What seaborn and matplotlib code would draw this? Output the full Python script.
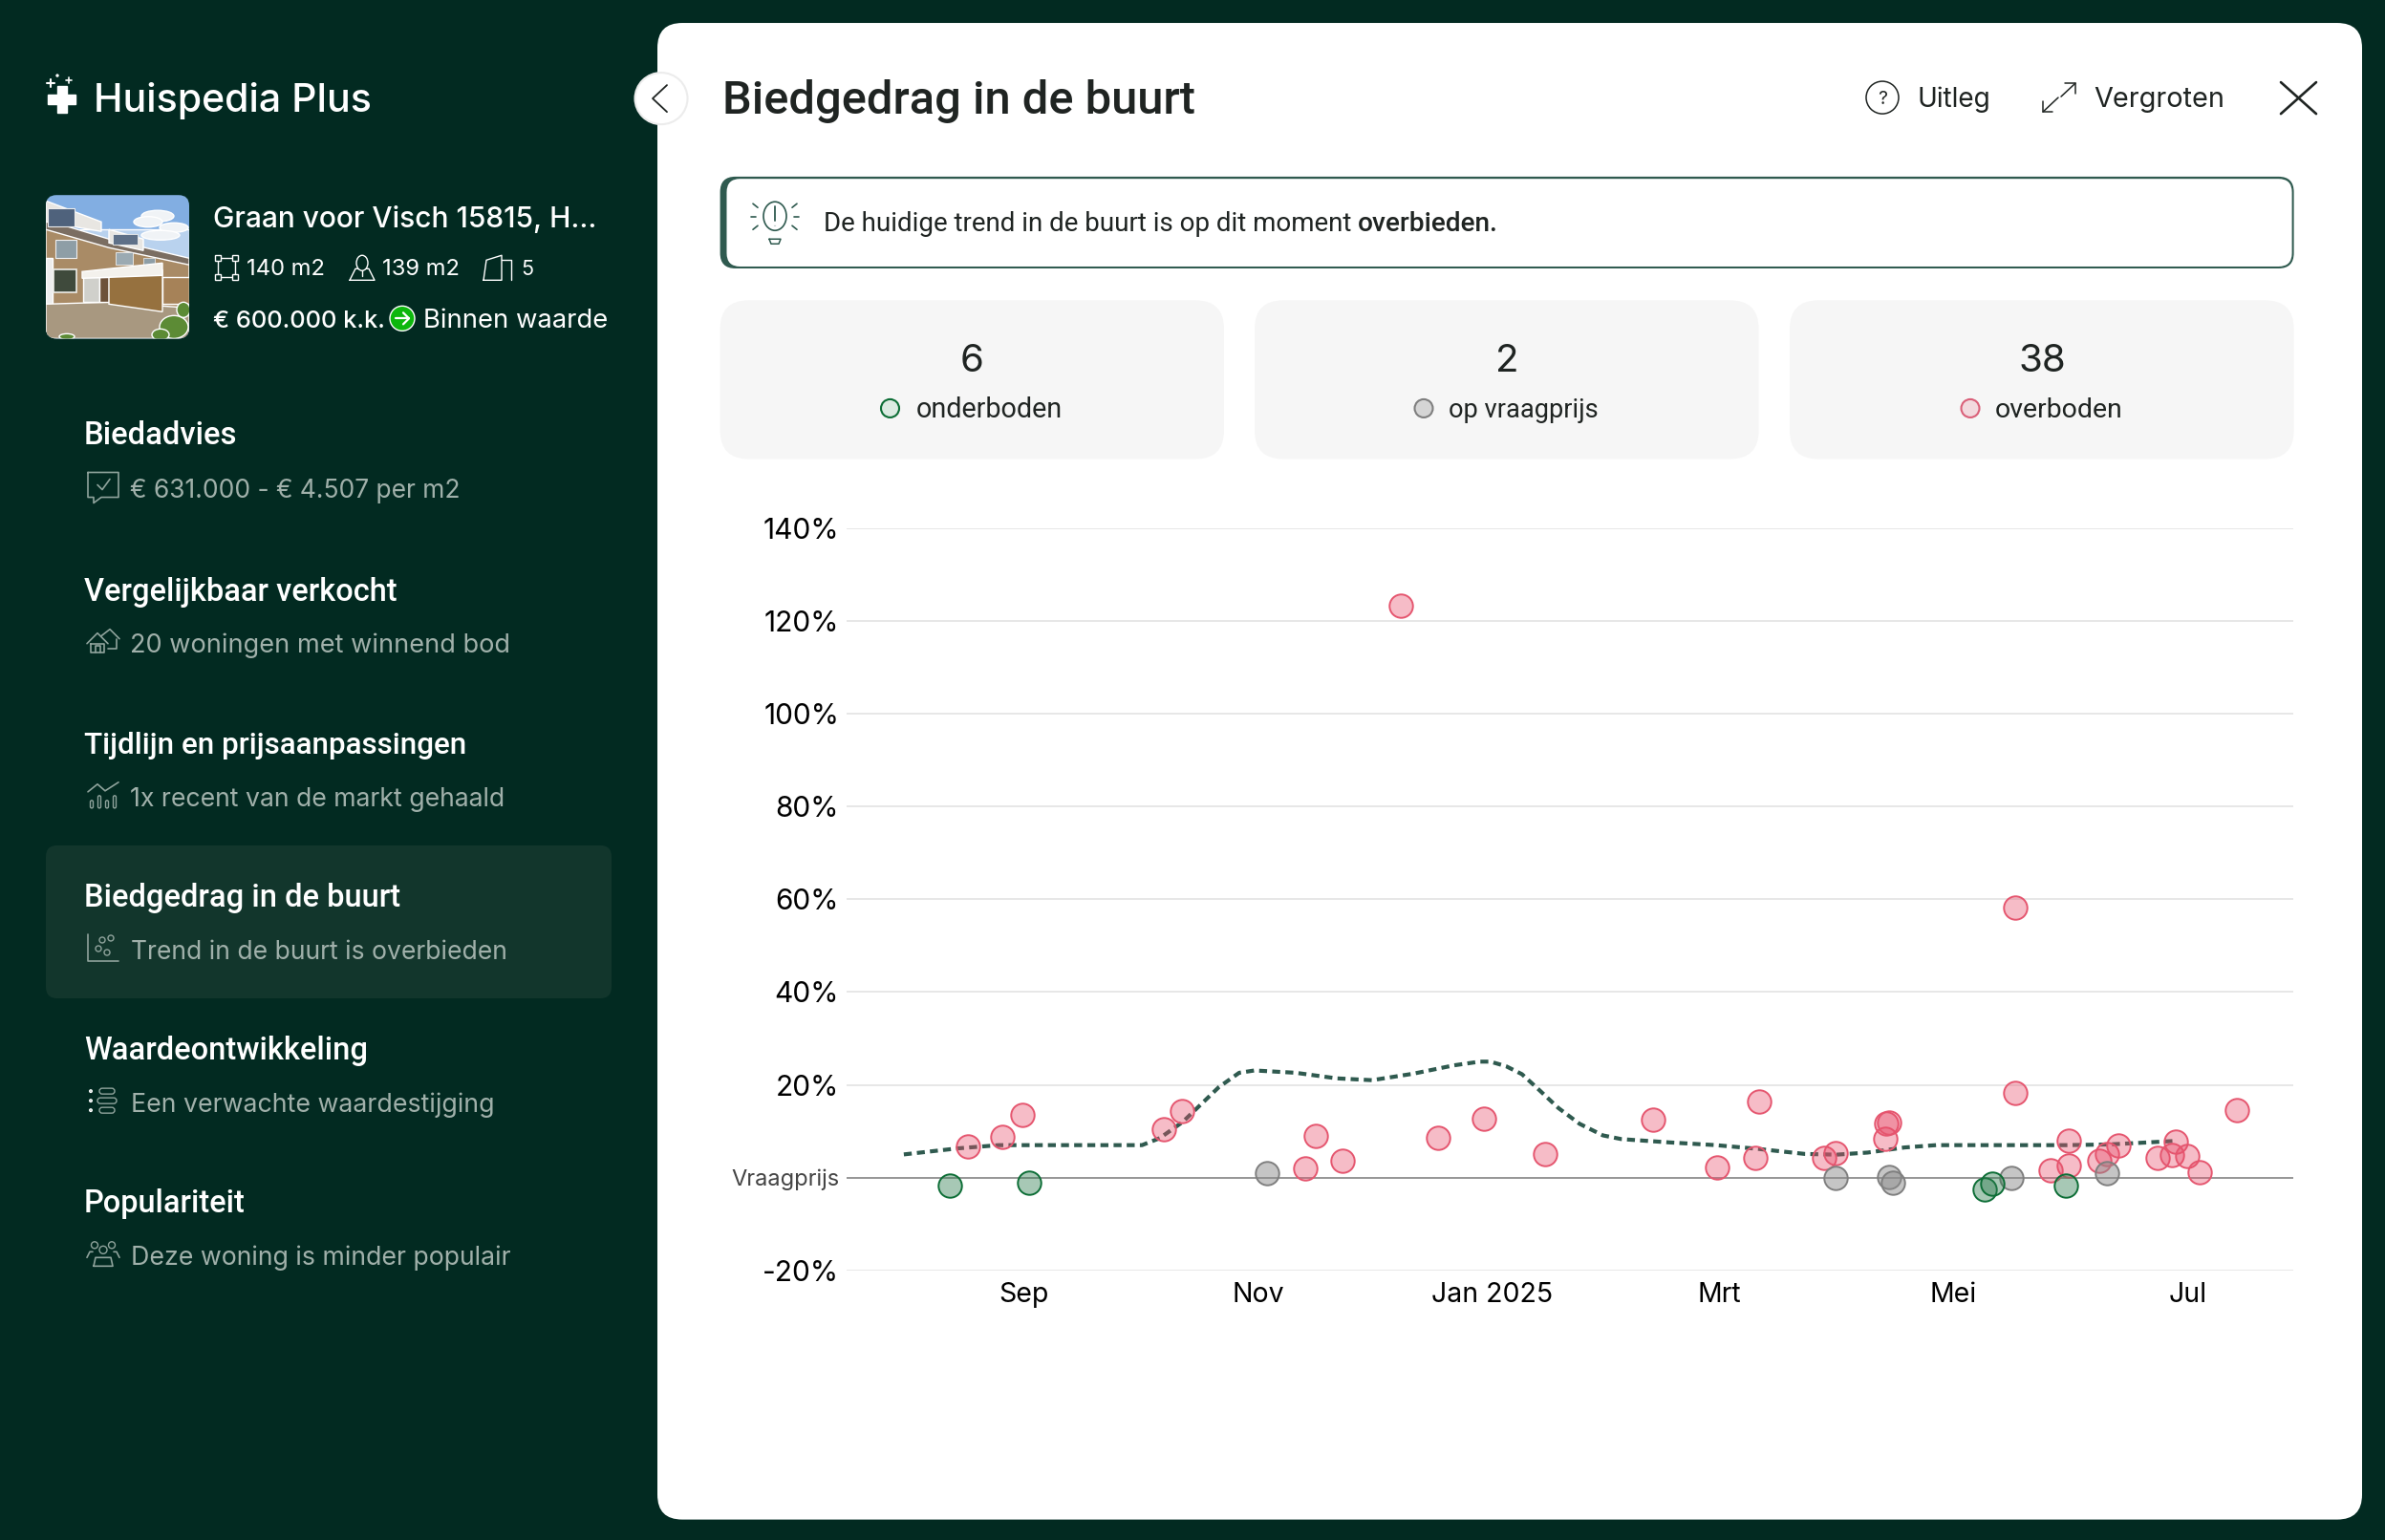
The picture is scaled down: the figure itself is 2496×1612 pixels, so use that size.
"""Biedgedrag in de buurt: scatter of bids vs asking price, inside the Huispedia Plus panel."""

import matplotlib
matplotlib.use("Agg")
import matplotlib.pyplot as plt
from matplotlib.colors import to_rgba
from matplotlib.patches import Circle, Ellipse, FancyBboxPatch, Polygon, Rectangle
import pandas as pd
import seaborn as sns

W, H = 2496, 1612

# ── Data (days after 1 Sep 2024, % above asking price) ──

over_days = [-14.4, -5.5, -0.4, 36.4, 41.3, 76.1, 73.2, 83.1, 98.1, 107.9, 119.9,
             135.8, 163.8, 191.5, 180.6, 190.5, 208.4, 211.4, 224.4, 224.5, 225.2,
             258.0, 258.2, 272.1, 272.1, 267.2, 280.1, 282.1, 285.0, 295.1, 298.9,
             299.8, 302.8, 306.0, 315.8]
over_pct = [6.7, 8.7, 13.5, 10.5, 14.4, 8.9, 2.0, 3.7, 123.2, 8.6, 12.6,
            5.1, 12.4, 16.4, 2.2, 4.2, 4.3, 5.2, 8.3, 11.6, 11.8,
            58.2, 18.3, 8.0, 2.6, 1.5, 3.6, 5.1, 6.9, 4.2, 4.9,
            7.8, 4.6, 1.1, 14.6]

under_days = [-19.3, 1.5, 250.2, 252.2, 271.2]
under_pct = [-1.7, -1.1, -2.5, -1.4, -1.65]

asking_days = [63.3, 211.4, 225.2, 226.3, 257.1, 282.0]
asking_pct = [1.0, 0.0, 0.1, -1.0, 0.0, 1.0]

trend_days = [-31.2, -17.2, -6.5, 30.8, 35.4, 41.4, 50.8, 56.1, 60.1, 70.8, 81.4, 90.7,
              101.4, 112.0, 118.7, 121.5, 125.6, 129.7, 133.8, 139.2, 144.7, 150.8,
              155.6, 167.9, 180.2, 191.1, 203.4, 211.6, 219.7, 229.3, 237.5, 271.6,
              282.5, 290.7, 299.6]
trend_pct = [5.0, 6.3, 7.0, 7.0, 8.5, 12.0, 19.5, 22.6, 23.1, 22.6, 21.4, 21.0,
             22.4, 24.2, 25.0, 25.0, 24.0, 22.3, 19.2, 15.0, 11.6, 9.1,
             8.3, 7.6, 7.0, 6.2, 5.1, 4.95, 5.4, 6.5, 7.0, 7.0,
             7.15, 7.5, 7.9]

month_ticks = ["2024-09-01", "2024-11-01", "2025-01-01", "2025-03-01", "2025-05-01", "2025-07-01"]
month_labels = ["Sep", "Nov", "Jan 2025", "Mrt", "Mei", "Jul"]
pct_ticks = [-20, 0, 20, 40, 60, 80, 100, 120, 140]

card_numbers = ["6", "2", "38"]
card_labels = ["onderboden", "op vraagprijs", "overboden"]

menu_titles = ["Biedadvies", "Vergelijkbaar verkocht", "Tijdlijn en prijsaanpassingen",
               "Biedgedrag in de buurt", "Waardeontwikkeling", "Populariteit"]
menu_subs = ["€ 631.000 - € 4.507 per m2", "20 woningen met winnend bod",
             "1x recent van de markt gehaald", "Trend in de buurt is overbieden",
             "Een verwachte waardestijging", "Deze woning is minder populair"]

DARK = "#022A21"
SELECTED = "#12362C"
TREND = "#2F5A4F"
SUBTEXT = "#A0B0AA"
ICON = "#8FA39C"
INK = "#1F2422"
RED, RED_EDGE = "#E8506C", "#E5566F"
GREEN, GREEN_EDGE = "#2F7D4F", "#0D6E36"
GRAY, GRAY_EDGE = "#8C8C8C", "#7F7F7F"

sns.set_theme(style="white")
plt.rcParams["font.family"] = ["Inter", "DejaVu Sans"]

fig = plt.figure(figsize=(W / 100, H / 100), dpi=100, facecolor=DARK)

# full-figure layer in pixel coordinates for the app chrome
bg = fig.add_axes([0, 0, 1, 1], zorder=0)
bg.set_xlim(0, W)
bg.set_ylim(H / 1.001, 0)
bg.axis("off")


def box(x0, y0, x1, y1, r, fc, ec="none", lw=0, ax=bg, z=1):
    patch = FancyBboxPatch((x0, y0), x1 - x0, y1 - y0, boxstyle=f"round,pad=0,rounding_size={r}",
                           fc=fc, ec=ec, lw=lw, zorder=z)
    ax.add_patch(patch)
    return patch


def label(x, base, s, right=None, size=16, color=INK, weight="normal", family=None, ha="left"):
    # text is scaled to the width measured in the reference when right is given
    t = bg.text(x, base, s, fontsize=size, color=color, fontweight=weight, ha=ha, va="baseline",
                zorder=6, family=family or plt.rcParams["font.family"])
    if right is not None:
        w = t.get_window_extent(fig.canvas.get_renderer()).width
        t.set_fontsize(size * (right - x) / w)
    return t


def stroke(xs, ys, color=ICON, lw=1.2, z=6):
    bg.plot(xs, ys, color=color, lw=lw, zorder=z, solid_capstyle="round", solid_joinstyle="round")


# ── Panels ────────────────────────────────────────────────────────────────────

box(688, 24, 2472, 1589, 26, "white")
box(48, 884, 640, 1044, 12, SELECTED)
bg.add_patch(Ellipse((692, 103), 55, 54, fc="white", ec="#ECECEC", lw=1.5, zorder=5))
stroke([698, 683, 698], [89, 103, 117], color=INK, lw=1.3)

# ── Sidebar header ────────────────────────────────────────────────────────────

bg.add_patch(Rectangle((60, 90), 10, 28, fc="white", zorder=6))
bg.add_patch(Rectangle((50, 99), 29, 10, fc="white", zorder=6))
stroke([49, 57], [87, 87], "white", 1.5)
stroke([53, 53], [83, 91], "white", 1.5)
stroke([69, 75], [84, 84], "white", 1.2)
stroke([72, 72], [81, 87], "white", 1.2)
bg.add_patch(Circle((60, 79), 1, fc="white", zorder=6))
label(98, 117, "Huispedia Plus", right=389, size=30, color="white", weight="medium")

# property photo, a rough impression built from patches
frame = box(48, 204, 198, 354, 11, "#82AEE2")


def photo(patch):
    bg.add_patch(patch)
    patch.set_clip_path(frame)
    patch.set_zorder(2)


photo(Rectangle((48, 240), 150, 50, fc="#B9D2EE"))
for cx, cy, ew, eh in [(165, 226, 34, 12), (155, 232, 30, 11), (182, 238, 30, 10), (168, 246, 40, 10)]:
    photo(Ellipse((cx, cy), ew, eh, fc="#F0F3F6"))
# brick facade under the sloping roof
photo(Polygon([(48, 235), (114, 256), (198, 272), (198, 340), (48, 340)], fc="#A98B66"))
photo(Polygon([(48, 230), (114, 250), (198, 270), (198, 277), (114, 259), (48, 240)], fc="#7B6E62"))
# dormers
photo(Polygon([(48, 210), (106, 232), (106, 242), (48, 232)], fc="#E8E6E2"))
photo(Rectangle((50, 218), 28, 19, fc="#4F627C", ec="#EDEDED", lw=0.8))
photo(Polygon([(114, 240), (150, 250), (150, 262), (114, 254)], fc="#E8E6E2"))
photo(Rectangle((118, 245), 26, 11, fc="#5E7088", ec="#EDEDED", lw=0.6))
# upper windows
photo(Rectangle((58, 251), 22, 19, fc="#8E9EA6", ec="#EFEFEF", lw=0.8))
photo(Rectangle((121, 264), 18, 13, fc="#9BAAB2", ec="#EFEFEF", lw=0.6))
photo(Rectangle((150, 270), 12, 9, fc="#8E9EA6", ec="#EFEFEF", lw=0.5))
# ground floor
photo(Rectangle((48, 270), 7, 84, fc="#EDEDED"))
photo(Rectangle((56, 282), 24, 24, fc="#3F4A3C", ec="#EDEDE8", lw=1.2))
photo(Polygon([(48, 318), (114, 316), (198, 322), (198, 354), (48, 354)], fc="#A89880"))
photo(Rectangle((87, 290), 17, 26, fc="#D0D0CB"))
photo(Rectangle((104, 290), 10, 26, fc="#6E523A"))
photo(Rectangle((170, 290), 28, 28, fc="#A68258"))
photo(Polygon([(114, 288), (170, 282), (170, 326), (114, 318)], fc="#96713F"))
photo(Polygon([(86, 284), (170, 275), (170, 288), (86, 291)], fc="#F3F1EC"))
for cx, cy, ew, eh in [(182, 342, 30, 24), (192, 324, 14, 16), (168, 350, 18, 12), (70, 352, 16, 6)]:
    photo(Ellipse((cx, cy), ew, eh, fc="#5C8B35"))

label(222.6, 238, "Graan voor Visch 15815, H...", right=624, size=22, color="white", weight="medium")

# area, plot and rooms icons
bg.add_patch(Rectangle((228, 270), 18, 20, fc="none", ec="white", lw=1, zorder=6))
for cx, cy in [(228, 270), (246, 270), (228, 290), (246, 290)]:
    bg.add_patch(Rectangle((cx - 3, cy - 3), 6, 6, fc=DARK, ec="white", lw=1, zorder=7))
label(258, 288, "140 m2", right=340, size=18, color="white")
stroke([366, 372, 386, 392, 366], [293, 281, 281, 293, 293], "white", 1)
bg.add_patch(Ellipse((379, 275), 12, 16, fc=DARK, ec="white", lw=1, zorder=6))
stroke([379, 379], [283, 289], "white", 1)
label(400, 288, "139 m2", right=481, size=18, color="white")
stroke([506, 509, 525, 525, 506], [293, 272, 267, 293, 293], "white", 1)
stroke([525, 535, 535], [272, 272, 293], "white", 1)
label(545, 288, "5", right=558, size=18, color="white")

label(222.6, 343, "€ 600.000 k.k.", right=403, size=20, color="white", weight="medium")
bg.add_patch(Circle((421, 333), 13, fc="#0DB70D", zorder=6))
stroke([414, 428], [333, 333], "white", 1.6, z=7)
stroke([422, 428, 422], [327, 333, 339], "white", 1.6, z=7)
label(443, 343, "Binnen waarde", right=636, size=20, color="white")

# ── Sidebar menu ──────────────────────────────────────────────────────────────

title_base = [465, 628, 788, 948, 1108, 1268]
title_right = [248, 415, 489, 418, 385, 257]
sub_base = [520, 682, 843, 1003, 1162.5, 1323]
sub_left = [136, 136, 136, 137, 137, 137]
sub_right = [482, 533, 530, 530, 517, 535]
for i, title in enumerate(menu_titles):
    label(88, title_base[i], title, right=title_right[i], size=24, color="white", weight="medium", family="Roboto")
    label(sub_left[i], sub_base[i], menu_subs[i], right=sub_right[i], size=20, color=SUBTEXT)

# chat with check
stroke([92, 124, 124, 106, 98, 98, 92, 92], [494, 494, 520, 520, 526, 520, 520, 494])
stroke([102, 107, 115], [507, 512, 501])
# two houses
stroke([91, 102, 113], [673, 662, 673])
stroke([95, 95, 109, 109, 95], [673, 682, 682, 673, 673])
stroke([100, 100, 105, 105], [682, 675, 675, 682])
stroke([106, 115, 125], [665, 658, 668])
stroke([122, 122, 113], [668, 678, 678])
# line above bars
stroke([92, 102, 110, 124], [828, 820, 827, 818])
for bx, bh in [(96, 8), (104, 13), (112, 8), (120, 13)]:
    bg.add_patch(FancyBboxPatch((bx - 1.5, 845 - bh), 3, bh, boxstyle="round,pad=0,rounding_size=1.5",
                                fc="none", ec=ICON, lw=1, zorder=6))
# small scatter
stroke([92, 92, 124], [977, 1005, 1005])
for cx, cy in [(103, 992), (107, 983), (112, 996), (116, 981)]:
    bg.add_patch(Circle((cx, cy), 3, fc="none", ec=ICON, lw=1, zorder=6))
# list
for yy, x0, x1 in [(1141, 104, 120), (1151, 102, 122), (1161, 104, 120)]:
    bg.add_patch(FancyBboxPatch((x0, yy - 3), x1 - x0, 6, boxstyle="round,pad=0,rounding_size=3",
                                fc="none", ec=ICON, lw=1, zorder=6))
    bg.add_patch(Circle((95, yy), 1.3, fc=ICON, zorder=6))
# people
for cx, cy, rr in [(99, 1302, 3.5), (108, 1307, 4), (117, 1302, 3.5)]:
    bg.add_patch(Circle((cx, cy), rr, fc="none", ec=ICON, lw=1, zorder=6))
stroke([98, 100, 116, 118, 98], [1324, 1315, 1315, 1324, 1324])
stroke([91, 94, 97], [1315, 1309, 1309])
stroke([119, 122, 125], [1309, 1309, 1315])

# ── Panel header ──────────────────────────────────────────────────────────────

label(756.4, 119, "Biedgedrag in de buurt", right=1251, size=36, color=INK, weight="medium", family="Roboto")

bg.add_patch(Circle((1970, 102), 17, fc="none", ec=INK, lw=1.1, zorder=6))
label(1970, 109, "?", size=14, color=INK, ha="center")
label(2006.6, 112, "Uitleg", right=2083.6, size=21, color=INK)
stroke([2138, 2154], [117, 102], INK, 1.1)
stroke([2138, 2138, 2148], [106, 117, 117], INK, 1.1)
stroke([2157, 2172], [101, 87], INK, 1.1)
stroke([2161, 2172, 2172], [87, 87, 98], INK, 1.1)
label(2191, 112, "Vergroten", right=2328, size=21, color=INK)
stroke([2387, 2424], [86, 119], INK, 1.9)
stroke([2387, 2424], [119, 86], INK, 1.9)

# ── Insight banner ────────────────────────────────────────────────────────────

box(753.6, 184.7, 2400.6, 280.7, 16, TREND, z=1)
box(760.5, 187, 2398.6, 278.7, 14, "white", z=2)
label(862, 241.7, "De huidige trend in de buurt is op dit moment ", right=1420.6, size=20, color=INK, family="Roboto")
label(1420.6, 241.7, "overbieden.", right=1568, size=20, color=INK, weight="medium", family="Roboto")

bg.add_patch(Ellipse((811, 226), 24, 30, fc="none", ec=TREND, lw=1.2, zorder=6))
stroke([811, 811], [216, 231], TREND, 1.3)
bg.add_patch(Circle((811, 236), 1.2, fc=TREND, zorder=6))
stroke([805, 817, 815, 807, 805], [250, 250, 255, 255, 250], TREND, 1.1)
for xs, ys in [([788, 793], [213, 217]), ([786, 791], [227, 227]), ([788, 793], [240, 236]),
               ([834, 829], [213, 217]), ([836, 831], [227, 227]), ([834, 829], [240, 236])]:
    stroke(xs, ys, TREND, 1.2)

# ── Summary cards ─────────────────────────────────────────────────────────────

card_edges = [(753.6, 1281), (1313, 1840.6), (1873, 2400.6)]
number_x = [1017, 1577, 2137]
dot_x = [931.5, 1490, 2062]
text_x = [(958.5, 1111), (1516.5, 1673), (2088, 2221.5)]
dot_fill = ["#DCEBE2", "#D5D5D5", "#F2D9DE"]
dot_edge = [GREEN_EDGE, GRAY_EDGE, "#DA6079"]
for i in range(3):
    box(card_edges[i][0], 314, card_edges[i][1], 480, 30, "#F6F6F6")
    label(number_x[i], 389, card_numbers[i], size=29, color=INK, ha="center")
    bg.add_patch(Circle((dot_x[i], 427), 9.5, fc=dot_fill[i], ec=dot_edge[i], lw=1.5, zorder=6))
    label(text_x[i][0], 437, card_labels[i], right=text_x[i][1], size=20, color=INK, family="Roboto")

# ── Chart ─────────────────────────────────────────────────────────────────────

START = pd.Timestamp("2024-09-01")


def to_frame(days, pct):
    return pd.DataFrame({"datum": START + pd.to_timedelta(days, unit="D"), "pct": pct})


LEFT, RIGHT, TOP, BOTTOM = 886, 2400, 552.8, 1329.8
ax = fig.add_axes([LEFT / W, 1 - BOTTOM / H, (RIGHT - LEFT) / W, (BOTTOM - TOP) / H], zorder=2)
ax.patch.set_alpha(0)

sns.lineplot(data=to_frame(trend_days, trend_pct), x="datum", y="pct", ax=ax, color=TREND, linewidth=3.0,
             linestyle=(0, (2.0, 1.3)), dash_capstyle="butt", sort=False, errorbar=None, zorder=3)

groups = [(over_days, over_pct, RED, RED_EDGE, 0.38),
          (asking_days, asking_pct, GRAY, GRAY_EDGE, 0.5),
          (under_days, under_pct, GREEN, GREEN_EDGE, 0.42)]
for days, pct, fill, edge, alpha in groups:
    sns.scatterplot(data=to_frame(days, pct), x="datum", y="pct", ax=ax, color=fill, s=310,
                    edgecolor=edge, linewidth=1.4, zorder=4, clip_on=False)
    pts = ax.collections[-1]
    pts.set_alpha(None)
    pts.set_facecolor(to_rgba(fill, alpha))
    pts.set_edgecolor(to_rgba(edge, 1))

ax.set_xlim(START + pd.Timedelta(days=-46.1), START + pd.Timedelta(days=330.5))
ax.set_ylim(-20, 140)
ax.set_xticks(pd.to_datetime(month_ticks))
ax.set_xticklabels(month_labels)
ax.set_yticks(pct_ticks)
ax.set_yticklabels(["Vraagprijs" if v == 0 else f"{v}%" for v in pct_ticks])
ax.set_xlabel("")
ax.set_ylabel("")
sns.despine(ax=ax, left=True, bottom=True)
ax.set_axisbelow(True)
ax.grid(axis="y", color="#E0E0E0", lw=1.1)
ax.grid(axis="x", visible=False)
ax.axhline(0, color="#808080", lw=1.1, zorder=2)
ax.tick_params(axis="both", length=0, labelcolor="black")
ax.tick_params(axis="y", pad=5.6, labelsize=21.5)
ax.tick_params(axis="x", pad=9, labelsize=20.5)
for lab, v in zip(ax.get_yticklabels(), pct_ticks):
    if v == 0:
        lab.set_fontsize(17)
        lab.set_color("#444444")

fig.savefig("out.png", dpi=100, facecolor=DARK)
plt.close(fig)
